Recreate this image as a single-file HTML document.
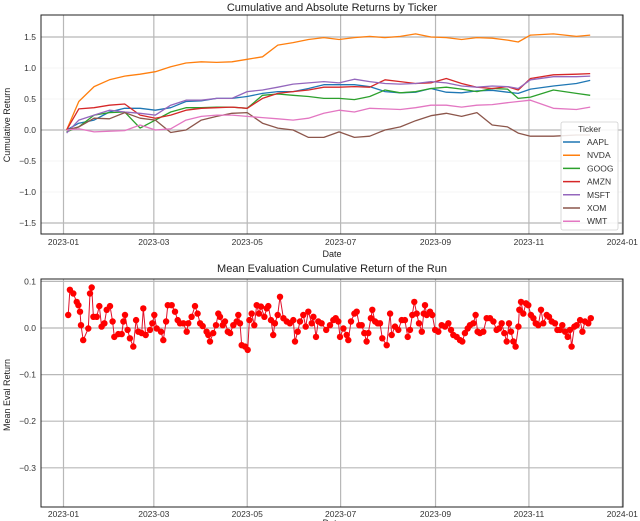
<!DOCTYPE html>
<html><head><meta charset="utf-8"><style>
html,body{margin:0;padding:0;background:#fff;}
svg{display:block;font-family:"Liberation Sans","DejaVu Sans",sans-serif;}
</style></head><body>
<svg id="chart" width="640" height="521" viewBox="0 0 640 521"></svg>
<script>
// ---------- data: top chart ----------
const tickers = ["AAPL","NVDA","GOOG","AMZN","MSFT","XOM","WMT"];
const colors = ["#1f77b4","#ff7f0e","#2ca02c","#d62728","#9467bd","#8c564b","#e377c2"];
const days = [2,10,20,30,40,50,60,70,80,90,100,110,120,130,140,150,160,170,180,190,200,210,220,230,240,250,260,270,280,290,297,305,320,335,344];
const aapl = [0,.11,.16,.29,.35,.35,.32,.36,.46,.47,.51,.51,.54,.59,.62,.62,.67,.73,.73,.73,.70,.62,.60,.61,.67,.61,.60,.63,.64,.61,.59,.66,.71,.75,.80];
const nvda = [0,.46,.70,.81,.87,.90,.94,1.02,1.08,1.10,1.09,1.10,1.14,1.18,1.37,1.41,1.46,1.49,1.46,1.49,1.51,1.49,1.51,1.55,1.50,1.49,1.46,1.49,1.48,1.45,1.42,1.53,1.55,1.51,1.53];
const goog = [-.03,.05,.24,.28,.29,.03,.16,.29,.36,.36,.37,.37,.35,.56,.58,.56,.54,.51,.51,.49,.54,.645,.60,.62,.67,.69,.66,.62,.67,.66,.51,.53,.645,.59,.56];
const amzn = [0,.34,.36,.40,.42,.24,.19,.24,.32,.35,.36,.37,.35,.51,.59,.62,.645,.69,.69,.70,.69,.81,.78,.75,.76,.83,.75,.69,.67,.70,.645,.83,.89,.90,.91];
const msft = [-.05,.16,.24,.32,.29,.27,.24,.40,.48,.48,.51,.51,.62,.645,.69,.74,.76,.78,.76,.82,.78,.75,.74,.75,.78,.76,.71,.69,.71,.70,.67,.81,.86,.86,.87];
const xom  = [0,.05,.19,.18,.28,.19,.16,-.04,0,.16,.22,.27,.28,.11,.03,0,-.12,-.12,-.03,-.12,-.10,0,.05,.15,.23,.27,.22,.28,.08,.05,-.05,-.10,-.10,-.08,-.08];
const wmt  = [0,.02,-.03,-.02,-.01,.08,0,.02,.16,.22,.24,.24,.22,.20,.18,.16,.19,.27,.32,.29,.35,.34,.33,.36,.40,.40,.37,.40,.41,.44,.46,.48,.35,.33,.37];
const seriesList = [aapl,nvda,goog,amzn,msft,xom,wmt];
const topYTicks = [1.5,1.0,0.5,0.0,-0.5,-1.0,-1.5];
const topYLabels = ["1.5","1.0","0.5","0.0","\u22120.5","\u22121.0","\u22121.5"];
const xTickDays = [0,59,120,181,243,304,365];
const xTickLabels = ["2023-01","2023-03","2023-05","2023-07","2023-09","2023-11","2024-01"];
// ---------- data: bottom chart ----------
const evalDays = [3.1,4.2,6.4,8.6,9.7,10.8,11.4,12.9,16.2,17.3,18.4,19.5,21.7,23.4,24.9,26.7,28.2,30.4,32.1,33.2,35.8,38,39.1,40.2,41.9,43.4,45.6,47.4,48.9,51.1,52.1,53.7,56.5,58,59.3,60.9,63.7,65.2,67,68.1,70.7,72.8,74.6,76.1,78.3,80.5,81.5,83.7,85.9,87.6,89.2,90.9,93.5,94.6,95.7,97.8,99.6,101.1,102.2,104,105.5,107.3,108.8,110.9,113.1,114.2,115.3,116.4,118.6,120.3,121.4,122.9,124.6,126.2,127.7,129,131.2,132.7,133.8,135.5,137,138.1,139.9,141.4,143.6,145.8,147.9,150.1,151.2,153,154.5,156.6,158.2,159.9,162.1,163.2,164.9,166.4,168.6,
171.6,174.1,176.2,177.8,179.5,180.6,182.8,185,186,187.8,190,191.5,193.2,194.8,196.5,198,199.1,200.8,201.7,203.5,205.2,206.7,208.2,211.1,213.3,214.4,216.5,218.7,220.9,223,224.8,226.3,227.8,229.1,230.7,232.2,234,235.3,236.1,237.2,239.4,240.9,242.7,244.8,247,249.2,251.4,253.1,254.6,256.8,259,260.5,262.2,264,265.5,267.7,269.2,270.5,272,274.2,276.4,278.6,280.8,282.9,284.5,286.2,287.9,289.5,291,292.3,293.8,295.3,297.1,297.7,298.8,300.3,302.1,303.6,305.3,306.9,308.4,310.1,311.9,313.4,315.6,317.1,318.9,321,322.6,324.3,325.8,327.6,329.3,330.8,331.9,333.7,335.2,337.4,338.9,340.6,342.8,344.4];
const evalValues = [0.028,0.082,0.074,0.056,0.049,0.035,0.006,-0.026,-0.001,0.074,0.087,0.024,0.024,0.047,0.003,0.010,0.039,0.047,0.014,-0.019,-0.013,-0.013,0.014,0.028,-0.004,-0.022,-0.040,0.017,-0.008,-0.011,0.042,-0.015,-0.004,0.010,0.028,-0.001,-0.008,-0.026,0.014,0.049,0.049,0.035,0.017,0.010,0.010,-0.008,0.010,0.024,0.047,0.031,0.010,0.004,-0.008,-0.015,-0.029,-0.011,0.006,0.031,0.024,0.006,0.014,-0.008,-0.011,0.006,0.014,0.028,0.010,-0.037,-0.040,-0.047,0.017,0.031,0.006,0.049,0.031,0.046,0.024,0.042,0.047,0.017,-0.015,0.010,0.028,0.067,0.021,0.014,0.010,0.017,-0.029,-0.008,0.014,0.028,0.003,0.035,0.010,0.024,-0.019,0.014,0.010,
-0.004,0.006,0.017,0.021,0.014,-0.019,-0.001,-0.015,-0.026,0.014,0.031,0.035,0.006,0.006,-0.011,-0.029,-0.011,0.021,0.039,0.014,0.010,0.010,-0.022,-0.037,0.031,-0.015,0.003,-0.004,0.017,0.017,-0.019,-0.004,0.028,0.056,0.031,0.010,-0.008,0.031,0.049,0.028,0.035,0.028,-0.004,-0.008,0.006,0.003,0.010,-0.004,-0.015,-0.019,-0.026,-0.029,-0.011,-0.001,0.006,0.010,0.028,-0.008,-0.011,-0.008,0.021,0.021,0.014,-0.004,-0.001,0.010,-0.011,-0.029,0.010,-0.008,-0.029,-0.040,0.003,0.039,0.056,0.031,0.053,0.049,0.028,0.021,0.010,0.006,0.039,0.010,0.028,0.024,0.014,0.010,-0.004,-0.004,0.006,-0.008,-0.019,-0.004,-0.040,0.003,0.006,0.017,-0.008,0.014,0.010,0.021];
const botYTicks = [0.1,0.0,-0.1,-0.2,-0.3];
const botYLabels = ["0.1","0.0","\u22120.1","\u22120.2","\u22120.3"];

// ---------- helpers ----------
const NS="http://www.w3.org/2000/svg";
const svg=document.getElementById("chart");
function mk(tag,attrs,parent){const e=document.createElementNS(NS,tag);for(const k in attrs)e.setAttribute(k,attrs[k]);(parent||svg).appendChild(e);return e;}
function xScale(d){return 63.5+1.531*d;}
function topY(v){return 130-62*v;}
function botY(v){return 328-466*v;}
const L=41,R=623;

// ---------- top panel ----------
const topG=mk("g",{});


const tt=mk("text",{x:332,y:11,"text-anchor":"middle","font-size":"11",fill:"#222"},topG);
tt.textContent="Cumulative and Absolute Returns by Ticker";


const tg=mk("g",{},topG);


topYTicks.forEach((v,i)=>{
  const y=topY(v);
  const major=(Math.abs(Math.abs(v)-1.5)<1e-9||v===0);
  mk("line",{x1:L,x2:R,y1:y,y2:y,stroke:major?"#b8b8b8":"#f0f0f0","stroke-width":major?1.2:0.8},tg);
  const t=mk("text",{x:L-5,y:y+3,"text-anchor":"end","font-size":"8.5",fill:"#333"},topG);
  t.textContent=topYLabels[i];
  
  
});
xTickDays.forEach((d,i)=>{
  const x=xScale(d);
  mk("line",{x1:x,x2:x,y1:15,y2:234,stroke:"#b8b8b8","stroke-width":1.2},tg);
  const t=mk("text",{x:x,y:245,"text-anchor":"middle","font-size":"8.5",fill:"#333"},topG);
  t.textContent=xTickLabels[i];
  
  
});
seriesList.forEach((s,k)=>{
  const pts=days.map((d,i)=>xScale(d).toFixed(1)+","+topY(s[i]).toFixed(1)).join(" ");
  const pl=mk("polyline",{points:pts,fill:"none",stroke:colors[k],"stroke-width":1.3,"stroke-linejoin":"round"},topG);
  
  
});
const tf=mk("rect",{x:L,y:15,width:R-L,height:219,fill:"none",stroke:"#222","stroke-width":1},topG);


const yl=mk("text",{x:0,y:0,transform:"translate(10,125) rotate(-90)","text-anchor":"middle","font-size":"9",fill:"#222"},topG);
yl.textContent="Cumulative Return";


const xl=mk("text",{x:332,y:257,"text-anchor":"middle","font-size":"9",fill:"#222"},topG);
xl.textContent="Date";


// legend
const lg=mk("g",{},topG);


mk("rect",{x:561,y:122,width:57,height:108,rx:2,fill:"#fff","fill-opacity":0.85,stroke:"#d0d0d0","stroke-width":0.8},lg);
const lt=mk("text",{x:589.5,y:132,"text-anchor":"middle","font-size":"8.5",fill:"#333"},lg);
lt.textContent="Ticker";


tickers.forEach((n,k)=>{
  const y=142+k*13.2;
  const g=mk("g",{},lg);
  
  
  mk("line",{x1:563,x2:580,y1:y,y2:y,stroke:colors[k],"stroke-width":1.5},g);
  const t=mk("text",{x:587,y:y+3,"font-size":"8.5",fill:"#333"},g);
  t.textContent=n;
});

// ---------- bottom panel ----------
const botG=mk("g",{});


const bt=mk("text",{x:332,y:272,"text-anchor":"middle","font-size":"11",fill:"#222"},botG);
bt.textContent="Mean Evaluation Cumulative Return of the Run";


const bg=mk("g",{},botG);


botYTicks.forEach((v,i)=>{
  const y=botY(v);
  mk("line",{x1:L,x2:R,y1:y,y2:y,stroke:"#b8b8b8","stroke-width":1.2},bg);
  const t=mk("text",{x:L-5,y:y+3,"text-anchor":"end","font-size":"8.5",fill:"#333"},botG);
  t.textContent=botYLabels[i];
  
  
});
xTickDays.forEach((d,i)=>{
  const x=xScale(d);
  mk("line",{x1:x,x2:x,y1:279,y2:507,stroke:"#b8b8b8","stroke-width":1.2},bg);
  const t=mk("text",{x:x,y:517,"text-anchor":"middle","font-size":"8.5",fill:"#333"},botG);
  t.textContent=xTickLabels[i];
  
  
});
const epts=evalDays.map((d,i)=>xScale(d).toFixed(1)+","+botY(evalValues[i]).toFixed(1)).join(" ");
const el=mk("polyline",{points:epts,fill:"none",stroke:"#e0102a","stroke-width":1},botG);


const mg=mk("g",{fill:"#ff0000"},botG);


evalDays.forEach((d,i)=>{
  const c=mk("circle",{cx:xScale(d).toFixed(1),cy:botY(evalValues[i]).toFixed(1),r:3.2},mg);
  
  
});
const bf=mk("rect",{x:L,y:279,width:R-L,height:228,fill:"none",stroke:"#222","stroke-width":1},botG);


const byl=mk("text",{x:0,y:0,transform:"translate(10,395) rotate(-90)","text-anchor":"middle","font-size":"9",fill:"#222"},botG);
byl.textContent="Mean Eval Return";


const bxl=mk("text",{x:332,y:526,"text-anchor":"middle","font-size":"9",fill:"#222"},botG);
bxl.textContent="Date";


</script>
</body></html>
